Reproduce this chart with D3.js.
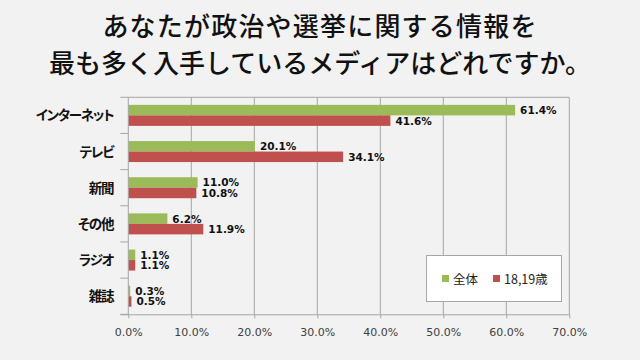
<!DOCTYPE html>
<html><head><meta charset="utf-8">
<script src="https://cdn.jsdelivr.net/npm/d3@7"></script>
<style>
html,body{margin:0;padding:0;background:#f2f2f2;}
svg{display:block;}
</style></head>
<body>
<svg id="c" width="640" height="360"></svg>
<script>
const titleLines = ["あなたが政治や選挙に関する情報を", "最も多く入手しているメディアはどれですか。"];
const categories = ["インターネット", "テレビ", "新聞", "その他", "ラジオ", "雑誌"];
const seriesNames = ["全体", "18,19歳"];
const allValues = [61.4, 20.1, 11.0, 6.2, 1.1, 0.3];
const youthValues = [41.6, 34.1, 10.8, 11.9, 1.1, 0.5];
const xTicks = [0, 10, 20, 30, 40, 50, 60, 70];
const colors = ["#9bbb59", "#c0504d"];

const svg = d3.select("#c");
const m = {left:128.3, right:569.3, top:97.3, bottom:314.3};

svg.append("rect").attr("width",640).attr("height",360).attr("fill","#f2f2f2");

const title = svg.append("text").attr("x",320).attr("text-anchor","middle")
  .attr("font-family","'Noto Sans CJK JP'").attr("font-size",26).attr("font-weight",500)
  .attr("fill","#111");
titleLines.forEach((t,i)=>{
  title.append("tspan").attr("x",320).attr("y",36+i*37)
    .attr("letter-spacing", i===0 ? 1.2 : 0).text(t);
});

const x = d3.scaleLinear().domain([0,70]).range([m.left,m.right]);
const y = d3.scaleBand().domain(categories).range([m.top,m.bottom]).paddingInner(0).paddingOuter(0);
const barH = 10.5;
const groupOff = (y.bandwidth() - 2*barH)/2;

// gridlines
svg.append("g").selectAll("line").data(xTicks.slice(1)).join("line")
  .attr("x1",d=>x(d)).attr("x2",d=>x(d)).attr("y1",m.top).attr("y2",m.bottom)
  .attr("stroke","#a6a6a6").attr("stroke-width",1);
// top border
svg.append("line").attr("x1",m.left).attr("x2",m.right).attr("y1",m.top).attr("y2",m.top)
  .attr("stroke","#a6a6a6");

// bars
const series = [allValues, youthValues];
series.forEach((vals,si)=>{
  svg.append("g").selectAll("rect").data(categories).join("rect")
    .attr("x",x(0))
    .attr("y",d=>y(d)+groupOff+si*barH)
    .attr("width",(d,i)=>x(vals[i])-x(0))
    .attr("height",barH)
    .attr("fill",colors[si]);
  svg.append("g").selectAll("text").data(categories).join("text")
    .attr("x",(d,i)=>x(vals[i])+5)
    .attr("y",d=>y(d)+groupOff+si*barH+barH/2+4)
    .attr("font-family","'DejaVu Sans'").attr("font-weight","bold").attr("font-size",10.5)
    .attr("fill","#111")
    .text((d,i)=>vals[i].toFixed(1)+"%");
});

// x axis
const xAxis = d3.axisBottom(x).tickValues(xTicks).tickSize(4).tickFormat(d=>d.toFixed(1)+"%");
const gx = svg.append("g").attr("transform",`translate(0,${m.bottom})`).call(xAxis);
gx.select(".domain").attr("stroke","#a6a6a6").attr("d",`M${m.left-8},0.5H${m.right}`);
gx.selectAll(".tick line").attr("stroke","#a6a6a6");
gx.selectAll(".tick text").attr("font-family","'DejaVu Sans'").attr("font-size",11)
  .attr("fill","#404040").attr("dy","1.3em");

// y axis
const gy = svg.append("g").attr("transform",`translate(${m.left},0)`);
gy.append("line").attr("x1",0).attr("x2",0).attr("y1",m.top).attr("y2",m.bottom).attr("stroke","#a6a6a6");
const bounds = d3.range(categories.length+1).map(i=>m.top+i*y.bandwidth());
gy.selectAll("line.t").data(bounds).join("line").attr("class","t")
  .attr("x1",-8).attr("x2",0).attr("y1",d=>d).attr("y2",d=>d).attr("stroke","#a6a6a6");
gy.selectAll("text").data(categories).join("text")
  .attr("x",-15).attr("y",d=>y(d)+y.bandwidth()/2+5)
  .attr("text-anchor","end")
  .attr("font-family","'Noto Sans CJK JP'").attr("font-weight","bold").attr("font-size",13.5)
  .attr("letter-spacing",-1.2)
  .style("font-feature-settings","'palt'")
  .attr("fill","#111").text(d=>d);

// legend
const lg = svg.append("g");
lg.append("rect").attr("x",426.5).attr("y",255.5).attr("width",135).attr("height",46)
  .attr("fill","#fff").attr("stroke","#a6a6a6");
const legX = [442, 493];
seriesNames.forEach((n,i)=>{
  lg.append("rect").attr("x",legX[i]).attr("y",275).attr("width",7).attr("height",7).attr("fill",colors[i]);
  lg.append("text").attr("x",legX[i]+11).attr("y",283.5)
    .attr("font-family","'Noto Sans CJK JP'").attr("font-size",12.5).attr("fill","#222").text(n);
});
</script>
</body></html>
